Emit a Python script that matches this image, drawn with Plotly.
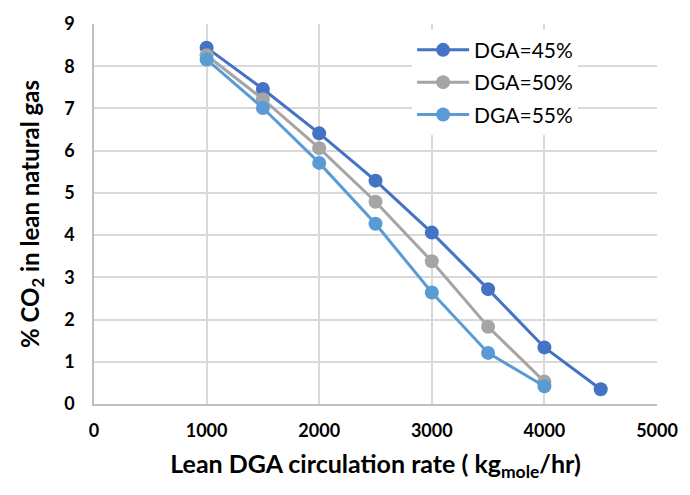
import plotly.graph_objects as go

x45 = [1000, 1500, 2000, 2500, 3000, 3500, 4000, 4500]
y45 = [8.44, 7.46, 6.41, 5.29, 4.06, 2.72, 1.34, 0.35]
x50 = [1000, 1500, 2000, 2500, 3000, 3500, 4000]
y50 = [8.26, 7.22, 6.06, 4.79, 3.38, 1.83, 0.53]
x55 = [1000, 1500, 2000, 2500, 3000, 3500, 4000]
y55 = [8.16, 7.01, 5.71, 4.27, 2.64, 1.21, 0.42]
names = ["DGA=45%", "DGA=50%", "DGA=55%"]
colors = ["#4472C4", "#A5A5A5", "#5B9BD5"]

fig = go.Figure()
for xs, ys, n, c in zip([x45, x50, x55], [y45, y50, y55], names, colors):
    fig.add_trace(go.Scatter(x=xs, y=ys, name=n, mode="lines+markers", legendgroup=n,
                             line=dict(color=c, width=3),
                             marker=dict(color=c, size=14)))

FONT = "Lato"
tickfont = dict(family=FONT, size=18, color="black", weight="bold")
fig.update_layout(
    width=690, height=495,
    margin=dict(l=94, r=33, t=18, b=91),
    plot_bgcolor="white", paper_bgcolor="white",
    legend=dict(x=0.565, y=0.985, xanchor="left", yanchor="top",
                bgcolor="white", font=dict(family=FONT, size=21, color="black"),
                itemwidth=52, tracegroupgap=2),
    xaxis=dict(range=[0, 5000], dtick=1000, showgrid=True, gridcolor="#D9D9D9", gridwidth=1.5,
               showline=True, linecolor="#BFBFBF", linewidth=1.5, zeroline=False,
               tickfont=tickfont, ticks="", ticklabelstandoff=10,
               title=dict(text="Lean DGA circulation rate ( kg<sub>mole</sub>/hr)",
                          font=dict(family=FONT, size=25, color="black", weight="bold"),
                          standoff=15)),
    yaxis=dict(range=[0, 9], dtick=1, showgrid=True, gridcolor="#D9D9D9", gridwidth=1.5,
               showline=True, linecolor="#BFBFBF", linewidth=1.5, zeroline=False,
               tickfont=tickfont, ticks="", ticklabelstandoff=14,
               title=dict(text="% CO<sub>2</sub> in lean natural gas",
                          font=dict(family=FONT, size=24, color="black", weight="bold"),
                          standoff=18)),
)
fig.write_html("out.html")
